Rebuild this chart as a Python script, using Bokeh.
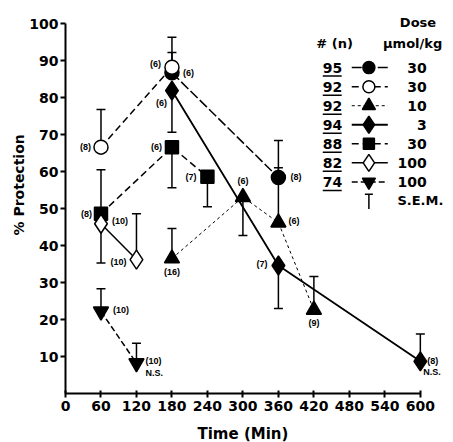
from bokeh.plotting import figure
from bokeh.models import Range1d, FixedTicker, Title
from bokeh.core.properties import value
from bokeh.embed import file_html
from bokeh.resources import INLINE

# ---------------- data ----------------
time_ticks = [0, 60, 120, 180, 240, 300, 360, 420, 480, 540, 600]
y_ticks = [10, 20, 30, 40, 50, 60, 70, 80, 90, 100]

compound_ids = ["95", "92", "92", "94", "88", "82", "74"]
doses = ["30", "30", "10", "3", "30", "100", "100"]

t95 = [180, 360]
v95 = [86.7, 58.4]
e95 = [92.2, 68.4]
n95 = ["(6)", "(8)"]

t92o = [60, 180]
v92o = [66.6, 88.2]
e92o = [76.8, 96.3]
n92o = ["(8)", "(6)"]

t92t = [180, 300, 360, 420]
v92t = [36.5, 53.1, 46.2, 22.6]
e92t = [44.6, 42.7, 61.0, 31.6]
n92t = ["(16)", "(6)", "(6)", "(9)"]

t94 = [180, 360, 600]
v94 = [81.9, 34.6, 8.7]
e94 = [70.6, 23.0, 16.1]
n94 = ["(6)", "(7)", "(8)"]

t88 = [60, 180, 240]
v88 = [48.6, 66.6, 58.6]
e88 = [60.5, 55.6, 50.5]
n88 = ["(8)", "(6)", "(7)"]

t82 = [60, 120]
v82 = [45.9, 36.2]
e82 = [35.3, 48.6]
n82 = ["(10)", "(10)"]

t74 = [60, 120]
v74 = [22.2, 8.2]
e74 = [28.3, 13.6]
n74 = ["(10)", "(10)"]

# ---------------- figure ----------------
BOLD = "DejaVu Sans"
SMALL = "Liberation Sans"

p = figure(width=453, height=442, output_backend="svg", toolbar_location=None,
           x_range=Range1d(0, 651), y_range=Range1d(0, 103),
           min_border_left=65, min_border_right=3, min_border_top=12, min_border_bottom=49)
p.outline_line_color = None
p.xgrid.visible = False
p.ygrid.visible = False
p.background_fill_color = "white"

for ax in (p.xaxis[0], p.yaxis[0]):
    ax.axis_line_width = 2
    ax.major_tick_line_width = 2
    ax.major_tick_out = 5
    ax.major_tick_in = 0
    ax.minor_tick_line_color = None
    ax.major_label_text_font = BOLD
    ax.major_label_text_font_style = "bold"
    ax.major_label_text_font_size = "14px"
    ax.major_label_text_color = "black"
    ax.axis_line_color = "black"
    ax.major_tick_line_color = "black"

p.xaxis.ticker = FixedTicker(ticks=time_ticks)
p.xaxis.bounds = (0, 600)
p.xaxis.major_tick_in = 3
p.xaxis.major_tick_out = 4
p.xaxis.major_label_standoff = 3
# invisible spacer label: pushes the title panel a little lower
p.xaxis.axis_label = "."
p.xaxis.axis_label_text_font_size = "6px"
p.xaxis.axis_label_standoff = 2
p.xaxis.axis_label_text_alpha = 0

p.yaxis.ticker = FixedTicker(ticks=y_ticks)
p.yaxis.bounds = (0, 100)
p.yaxis.major_label_standoff = 2

# axis titles as side titles (offset so they sit where the original's are)
p.add_layout(Title(text="Time (Min)", align="left", offset=132, standoff=0,
                   text_font=BOLD, text_font_style="bold", text_font_size="15px",
                   text_color="black"), "below")
p.add_layout(Title(text="% Protection", align="left", offset=158, standoff=0,
                   text_font=BOLD, text_font_style="bold", text_font_size="14px",
                   text_color="black"), "left")

series = [
    dict(t=t95, v=v95, e=e95, n=n95, marker="circle", size=14, fill="black", dash="10 3", lw=1.5,
         lab=[(11, 0, "left"), (12, 0, "left")]),
    dict(t=t92o, v=v92o, e=e92o, n=n92o, marker="circle", size=14, fill="white", dash="7 4", lw=1.5,
         lab=[(-10, 0, "right"), (-11, -3, "right")]),
    dict(t=t92t, v=v92t, e=e92t, n=n92t, marker="triangle", size=15, fill="black", dash="3 3", lw=1,
         lab=[(0, 14, "center"), (0, -16, "center"), (10, -2, "left"), (0, 13, "center")]),
    dict(t=t94, v=v94, e=e94, n=n94, marker="diamond", size=19, fill="black", dash="solid", lw=1.8,
         lab=[(-5, 12, "right"), (-11, -2, "right"), (7, 0, "left")]),
    dict(t=t88, v=v88, e=e88, n=n88, marker="square", size=13, fill="black", dash="7 4", lw=1.5,
         lab=[(-9, 0, "right"), (-10, 0, "right"), (-11, 0, "right")]),
    dict(t=t82, v=v82, e=e82, n=n82, marker="diamond", size=19, fill="white", dash="solid", lw=1.5,
         lab=[(11, -3, "left"), (-10, 2, "right")]),
    dict(t=t74, v=v74, e=e74, n=n74, marker="inverted_triangle", size=15, fill="black", dash="6 3", lw=1.5,
         lab=[(12, -1, "left"), (9, -2, "left")]),
]

# connecting lines
for s in series:
    p.line(s["t"], s["v"], line_color="black", line_width=s["lw"], line_dash=s["dash"])

# error bars (one-sided, with cap)
for s in series:
    p.segment(x0=s["t"], y0=s["v"], x1=s["t"], y1=s["e"], line_color="black", line_width=1.5)
    p.scatter(s["t"], s["e"], marker="dash", size=9, line_color="black", line_width=1.5)

# markers
for s in series:
    p.scatter(s["t"], s["v"], marker=s["marker"], size=s["size"], fill_color=s["fill"],
              line_color="black", line_width=1.5)

# n labels
for s in series:
    for ti, vi, ni, (dx, dy, al) in zip(s["t"], s["v"], s["n"], s["lab"]):
        p.text([ti], [vi], text=[ni], x_offset=dx, y_offset=dy, text_align=al,
               text_baseline="middle", text_font=value(SMALL), text_font_style="bold",
               text_font_size="9px", text_color="black")

# N.S. notes
ns_pts = [(t74[-1], v74[-1], 9, 10), (t94[-1], v94[-1], 3, 11)]
for ti, vi, dx, dy in ns_pts:
    p.text([ti], [vi], text=["N.S."], x_offset=dx, y_offset=dy, text_align="left",
           text_baseline="middle", text_font=value(SMALL), text_font_style="bold",
           text_font_size="9px", text_color="black")

# ---------------- legend (custom) ----------------
row0 = 88.1
step = 5.15
num_x = 435
mk_x = 513
ln_x0, ln_x1 = 484, 545
dose_x = 611

def hdr(x, y, txt, size="13px", align="center"):
    p.text([x], [y], text=[txt], text_align=align, text_baseline="middle",
           text_font=value(BOLD), text_font_style="bold", text_font_size=size, text_color="black")

hdr(596, 100.3, "Dose")
hdr(455, 94.6, "# (n)")
hdr(587, 94.6, "\u00b5mol/kg")

for i, (cid, dose, s) in enumerate(zip(compound_ids, doses, series)):
    y = row0 - i * step
    p.line([ln_x0, ln_x1], [y, y], line_color="black", line_width=s["lw"], line_dash=s["dash"])
    p.scatter([mk_x], [y], marker=s["marker"], size=s["size"] - 2, fill_color=s["fill"],
              line_color="black", line_width=1.5)
    p.text([num_x], [y], text=[cid], text_align="left", text_baseline="middle",
           text_font=value(BOLD), text_font_style="bold", text_font_size="14px", text_color="black")
    p.segment(x0=[num_x], y0=[y - 2.3], x1=[num_x + 32], y1=[y - 2.3], line_color="black", line_width=1.5)
    p.text([dose_x], [y], text=[dose], text_align="right", text_baseline="middle",
           text_font=value(BOLD), text_font_style="bold", text_font_size="14px", text_color="black")

sem_y = row0 - 7 * step
p.segment(x0=[mk_x], y0=[sem_y + 1.8], x1=[mk_x], y1=[sem_y - 2.2], line_color="black", line_width=1.5)
p.scatter([mk_x], [sem_y + 1.8], marker="dash", size=8, line_color="black", line_width=1.5)
p.text([639], [sem_y], text=["S.E.M."], text_align="right", text_baseline="middle",
       text_font=value(BOLD), text_font_style="bold", text_font_size="13px", text_color="black")

open("out.html", "w").write(file_html(p, INLINE))
